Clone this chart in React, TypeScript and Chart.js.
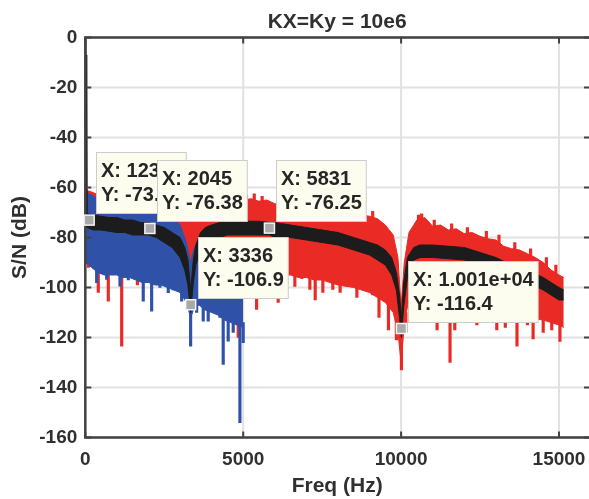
import React, { useEffect, useRef } from 'react';
import { Chart, registerables } from 'chart.js';

Chart.register(...registerables);

const FONT = '"Liberation Sans", Arial, Helvetica, sans-serif';
const RED = '#ea2a25';
const BLUE = '#2f52a8';
const BLACK = '#1c1c1c';
const AXIS = '#424242';
const TEXT = '#303030';
const GRID = '#e1e1e1';

const titleText = 'KX=Ky = 10e6';
const xLabel = 'Freq (Hz)';
const yLabel = 'S/N (dB)';
const xTicks = [0, 5000, 10000, 15000];
const yTicks = [-160, -140, -120, -100, -80, -60, -40, -20, 0];

// Red series (upper / lower envelope of the noisy spectrum)
const redFreq = [0, 250, 500, 750, 1000, 1250, 1500, 1750, 2000, 2250, 2500, 2750, 3000, 3250, 3500, 3750, 4000, 4250, 4500, 4750, 5000, 5250, 5500, 5750, 6000, 6250, 6500, 6750, 7000, 7250, 7500, 7750, 8000, 8250, 8500, 8750, 9000, 9250, 9500, 9750, 9900, 10000, 10100, 10250, 10500, 10750, 11000, 11250, 11500, 11750, 12000, 12250, 12500, 12750, 13000, 13250, 13500, 13750, 14000, 14250, 14500, 14750, 15000, 15150];
const redHi = [-61, -62, -63.5, -63, -64.5, -64, -65, -65.5, -66, -67, -66, -67.5, -66, -62, -64.5, -65.5, -64.5, -64, -65.5, -64, -65, -64.5, -65.5, -65, -66.5, -67, -68.5, -69, -70.5, -70, -71.5, -71, -72, -71, -72.5, -71, -71.5, -72.5, -75, -79, -88, -108, -90, -78, -73, -72, -75.5, -75, -77, -76.5, -78.5, -78, -79.5, -80.5, -81, -83.5, -84.5, -85, -86.5, -88, -90, -93, -95, -96];
const redLo = [-90, -92, -93, -94, -94, -95, -95, -96, -96, -97, -97, -98, -98, -98, -96, -95, -94, -94, -93, -93, -93, -93.5, -94, -94, -94.5, -95, -95, -96, -96, -97, -97, -98, -99, -99.5, -100, -101, -102, -104, -106, -110, -118, -130, -115, -104, -100, -101, -102, -103, -104, -105, -106, -106.5, -107, -108, -109, -109.5, -110, -111, -112, -112.5, -113, -114, -115, -116];
const redSpikeFreq = [95, 411, 728, 1152, 1650, 2015, 2330, 4842, 5424, 6108, 6636, 6858, 7111, 7280, 7522, 7838, 8070, 8281, 8600, 8946, 9104, 9300, 9450, 9600, 9850, 10010, 10150, 10700, 11140, 11550, 11700, 11900, 12400, 12820, 13030, 13300, 13670, 14000, 14180, 14500, 14770, 15030];
const redSpikeTop = [-90, -92, -93, -94, -95, -95, -96, -92, -92, -93, -94, -95, -95, -95, -96, -97, -97, -98, -98, -100, -100, -102, -103, -105, -110, -120, -110, -99, -100, -102, -102, -104, -105, -106, -107, -108, -109, -110, -110, -111, -112, -113];
const redSpikeBottom = [-92, -102, -105.5, -123.5, -99, -97.5, -99, -120, -108.8, -106, -99.6, -96.5, -100.8, -105, -102, -100.8, -102, -99.6, -104, -101, -103, -112, -105, -117, -121, -133, -118, -110, -117, -130, -117, -112, -115, -114, -117, -116, -123.5, -115, -120.6, -118, -117, -121.6];
const redPeakFreq = [3400, 3700, 4100, 4600, 5100, 5350, 5600, 6300, 6900, 7600, 8100, 8800, 9100, 10550, 10650, 11050, 11600, 12100, 12700, 13100, 13600, 14100, 14600, 14900];
const redPeakTop = [-61, -63, -62.5, -63, -63, -62.5, -63.5, -65, -67, -69, -69.5, -69, -69.5, -71, -70.5, -73, -74.5, -76, -77.5, -79, -82, -84.5, -88, -91];
const redPeakBottom = [-66, -67, -67, -67, -67, -67, -68, -69, -72, -73, -74, -74, -74, -76, -75, -78, -79, -81, -82, -84, -87, -89, -93, -96];

// Blue series
const blueFreq = [0, 20, 200, 400, 600, 800, 1000, 1200, 1400, 1600, 1800, 2000, 2200, 2400, 2600, 2800, 3000, 3200, 3336, 3450, 3600, 3800, 4000, 4200, 4400, 4600, 4800, 5000];
const blueHi = [0, -62, -63, -64.5, -64, -65.5, -65, -66.5, -66, -67.5, -67, -68.5, -68, -69.5, -70, -72, -75, -82, -90, -84, -82, -82.5, -83, -83.5, -84, -84.5, -85, -86];
const blueLo = [-90, -90, -92, -94, -95, -95, -95, -96, -96, -97, -98, -98, -99, -99, -100, -101, -102, -106, -112, -108, -107, -109, -110, -111, -113, -114, -115, -116];
const blueSpikeFreq = [360, 677, 1098, 1361, 1835, 2101, 2364, 2627, 2785, 3051, 3335, 3525, 3734, 3892, 4263, 4367, 4525, 4684, 4896, 5000];
const blueSpikeTop = [-92, -93, -94, -94, -96, -97, -97, -98, -99, -100, -110, -106, -106, -107, -109, -110, -112, -113, -114, -114];
const blueSpikeBottom = [-98.1, -96.8, -99.5, -97, -105.5, -109.5, -100, -102.1, -101, -105.5, -123.5, -110, -113.5, -113.5, -112, -130.8, -121.5, -118, -154.1, -122.1];

// Black series (band of the averaged trace)
const blackFreq = [0, 50, 60, 250, 500, 750, 1000, 1250, 1500, 1750, 2000, 2250, 2500, 2750, 3000, 3150, 3250, 3336, 3420, 3500, 3650, 3800, 4000, 4250, 4500, 4750, 5000, 5250, 5500, 5831, 6000, 6500, 7000, 7500, 8000, 8500, 9000, 9250, 9500, 9700, 9850, 9950, 10010, 10080, 10200, 10400, 10600, 11000, 11500, 12000, 12500, 13000, 13500, 14000, 14500, 15000, 15150];
const blackHi = [-7, -7, -70.5, -71, -71.5, -72, -72, -73, -73, -74, -74, -75, -76, -78, -80, -84, -89, -101, -89, -83, -78, -76, -75, -74, -74, -73.5, -73.5, -73.5, -73.5, -74, -74, -75, -76, -77, -78, -80, -82, -83, -85, -88, -94, -103, -112, -98, -88, -84, -83, -83, -83.5, -84, -86, -88, -91, -93, -96, -100, -101];
const blackLo = [-76, -76, -76, -77, -77, -77.5, -78, -78, -79, -79, -79, -80, -82, -84, -88, -93, -99, -110, -98, -91, -85, -82, -81, -80, -79, -79, -79, -79, -79, -79, -80, -80, -81, -82, -83, -85, -87, -89, -91, -95, -101, -112, -120, -108, -96, -89, -88, -88, -88.5, -89, -91, -93, -95, -98, -101, -105, -105];

// Data tips
const tipFreq = [123, 2045, 3336, 5831, 10010];
const tipLevel = [-73.05, -76.38, -106.9, -76.25, -116.4];
const tipXText = ['X: 123', 'X: 2045', 'X: 3336', 'X: 5831', 'X: 1.001e+04'];
const tipYText = ['Y: -73.05', 'Y: -76.38', 'Y: -106.9', 'Y: -76.25', 'Y: -116.4'];

const pts = (xs: number[], ys: number[]) => xs.map((x, i) => ({ x, y: ys[i] }));
const spikes = (xs: number[], tops: number[], bottoms: number[]) =>
  xs.map((x, i) => ({ x, y: [tops[i], bottoms[i]] }));

const bandLine = (data: any[], color: string, fill: any, order: number) => ({
  type: 'line',
  data,
  borderColor: color,
  backgroundColor: color,
  borderWidth: 1,
  pointRadius: 0,
  tension: 0,
  fill,
  order,
});

const spikeBars = (data: any[], color: string, order: number) => ({
  type: 'bar',
  data,
  backgroundColor: color,
  borderWidth: 0,
  barThickness: 2.5,
  grouped: false,
  order,
});

const framePlugin = {
  id: 'frame',
  beforeDatasetsDraw(chart: any) {
    const { ctx, chartArea: a, scales } = chart;
    const x = scales.x;
    const y = scales.y;
    ctx.save();
    ctx.strokeStyle = GRID;
    ctx.lineWidth = 2;
    ctx.beginPath();
    xTicks.forEach((v) => {
      const px = x.getPixelForValue(v);
      ctx.moveTo(px, a.top);
      ctx.lineTo(px, a.bottom);
    });
    yTicks.forEach((v) => {
      const py = y.getPixelForValue(v);
      ctx.moveTo(a.left, py);
      ctx.lineTo(a.right, py);
    });
    ctx.stroke();
    ctx.restore();
  },
  afterDatasetsDraw(chart: any) {
    const { ctx, chartArea: a, scales } = chart;
    const x = scales.x;
    const y = scales.y;
    ctx.save();
    ctx.strokeStyle = AXIS;
    ctx.lineCap = 'butt';
    ctx.lineWidth = 2.5;
    ctx.beginPath();
    ctx.moveTo(a.left, a.top);
    ctx.lineTo(a.right + 2, a.top);
    ctx.moveTo(a.left, a.top - 1.25);
    ctx.lineTo(a.left, a.bottom + 1.25);
    ctx.moveTo(a.left, a.bottom);
    ctx.lineTo(a.right + 2, a.bottom);
    ctx.stroke();
    ctx.lineWidth = 2;
    ctx.beginPath();
    xTicks.forEach((v) => {
      const px = x.getPixelForValue(v);
      ctx.moveTo(px, a.bottom);
      ctx.lineTo(px, a.bottom - 6);
      ctx.moveTo(px, a.top);
      ctx.lineTo(px, a.top + 6);
    });
    yTicks.forEach((v) => {
      const py = y.getPixelForValue(v);
      ctx.moveTo(a.left, py);
      ctx.lineTo(a.left + 6, py);
      ctx.moveTo(a.right, py);
      ctx.lineTo(a.right - 5, py);
    });
    ctx.stroke();
    ctx.restore();
  },
  afterDraw(chart: any) {
    const { ctx, chartArea: a, scales } = chart;
    const x = scales.x;
    const y = scales.y;
    ctx.save();
    // title
    ctx.fillStyle = TEXT;
    ctx.font = `bold 21px ${FONT}`;
    ctx.textAlign = 'center';
    ctx.textBaseline = 'middle';
    ctx.fillText(titleText, (a.left + a.right) / 2, 22);
    // data tips
    ctx.font = `bold 20px ${FONT}`;
    ctx.textAlign = 'left';
    tipFreq.forEach((f, i) => {
      const px = x.getPixelForValue(f);
      const py = y.getPixelForValue(tipLevel[i]);
      const w = Math.max(ctx.measureText(tipXText[i]).width, ctx.measureText(tipYText[i]).width) + 9;
      const h = 61;
      const left = Math.round(px + 7) + 0.5;
      const bottom = Math.round(py - 7) + 0.5;
      const top = bottom - h;
      ctx.fillStyle = '#fcfcef';
      ctx.fillRect(left, top, w, h);
      ctx.strokeStyle = '#cdcdcd';
      ctx.lineWidth = 1;
      ctx.strokeRect(left, top, w, h);
      ctx.fillStyle = '#262626';
      ctx.fillText(tipXText[i], left + 4.5, top + 19);
      ctx.fillText(tipYText[i], left + 4.5, top + 43);
      // marker
      ctx.fillStyle = '#a9a9a9';
      ctx.strokeStyle = '#f4f4f4';
      ctx.lineWidth = 1.5;
      ctx.fillRect(px - 5, py - 5, 10, 10);
      ctx.strokeRect(px - 5, py - 5, 10, 10);
    });
    ctx.restore();
  },
};

export default function App() {
  const ref = useRef<HTMLCanvasElement>(null);
  useEffect(() => {
    document.body.style.margin = '0';
    const tickFont = { family: FONT, size: 19, weight: 'bold' as const };
    const titleFont = { family: FONT, size: 21, weight: 'bold' as const };
    const chart = new Chart(ref.current as HTMLCanvasElement, {
      type: 'line',
      data: {
        datasets: [
          bandLine(pts(redFreq, redHi), RED, '+1', 10),
          bandLine(pts(redFreq, redLo), RED, false, 10),
          spikeBars(spikes(redSpikeFreq, redSpikeTop, redSpikeBottom), RED, 10),
          spikeBars(spikes(redPeakFreq, redPeakTop, redPeakBottom), RED, 10),
          bandLine(pts(blueFreq, blueHi), BLUE, '+1', 6),
          bandLine(pts(blueFreq, blueLo), BLUE, false, 6),
          spikeBars(spikes(blueSpikeFreq, blueSpikeTop, blueSpikeBottom), BLUE, 6),
          bandLine(pts(blackFreq, blackHi), BLACK, '+1', 3),
          bandLine(pts(blackFreq, blackLo), BLACK, false, 3),
        ] as any,
      },
      options: {
        responsive: false,
        animation: false,
        events: [],
        layout: { padding: { top: 37.5, right: 0, left: 0, bottom: 0 }, autoPadding: false } as any,
        plugins: {
          legend: { display: false },
          tooltip: { enabled: false },
          title: { display: false },
        },
        scales: {
          x: {
            type: 'linear',
            min: 0,
            max: 15950,
            offset: false,
            afterBuildTicks: (s: any) => {
              s.ticks = xTicks.map((v) => ({ value: v }));
            },
            afterFit: (s: any) => {
              s.height = 61.5;
              s.paddingLeft = 0;
              s.paddingRight = 0;
            },
            grid: { display: false, drawTicks: false },
            border: { display: false },
            ticks: {
              font: tickFont,
              color: TEXT,
              padding: 11,
              maxRotation: 0,
              autoSkip: false,
              callback: (v: any) => String(v),
            },
            title: { display: true, text: xLabel, font: titleFont, color: TEXT, padding: { top: 0, bottom: 0 } },
          },
          y: {
            type: 'linear',
            min: -160,
            max: 0,
            afterBuildTicks: (s: any) => {
              s.ticks = yTicks.map((v) => ({ value: v }));
            },
            afterFit: (s: any) => {
              s.width = 85.3;
              s.paddingTop = 0;
              s.paddingBottom = 0;
            },
            grid: { display: false, drawTicks: false },
            border: { display: false },
            ticks: { font: tickFont, color: TEXT, padding: 8, autoSkip: false, callback: (v: any) => String(v) },
            title: { display: true, text: yLabel, font: titleFont, color: TEXT, padding: { top: 8, bottom: 0 } },
          },
        },
      } as any,
      plugins: [framePlugin],
    });
    return () => chart.destroy();
  }, []);
  return (
    <div style={{ width: 589, height: 499 }}>
      <canvas ref={ref} width={589} height={499} style={{ display: 'block', width: 589, height: 499 }} />
    </div>
  );
}
